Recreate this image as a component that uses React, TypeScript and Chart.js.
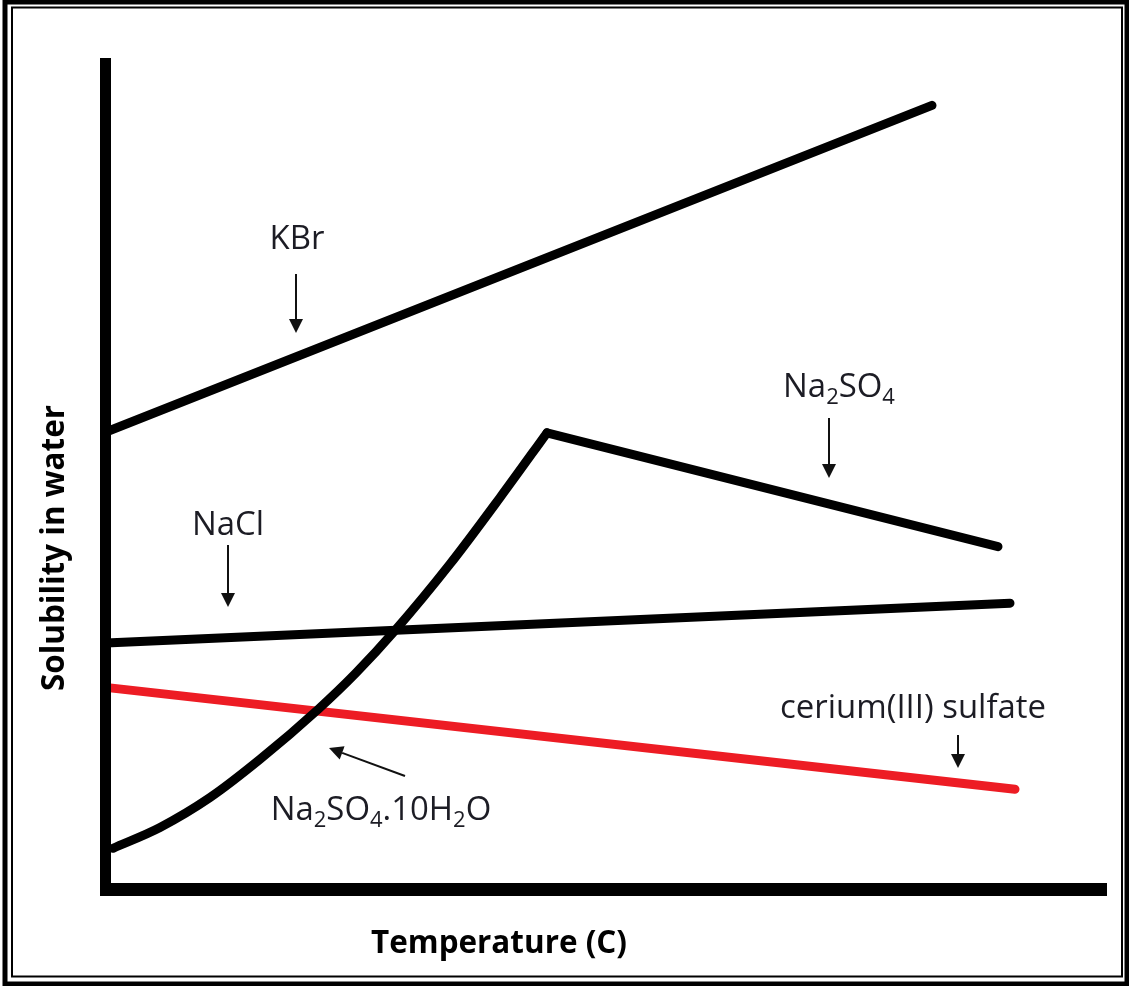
import React, { useEffect, useRef } from "react";
import { Chart, registerables } from "chart.js";

Chart.register(...registerables);

// Schematic data (temperature 0-100, solubility 0-100, arbitrary units)
const kbrTemp = [0, 82.6];
const kbrSol = [55.0, 94.3];

const decahydrateTemp = [0.7, 5.4, 10.4, 15.4, 21.2, 25.0, 28.9, 34.4, 39.4, 44.1];
const decahydrateSol = [4.9, 7.4, 11.0, 15.6, 21.6, 26.0, 31.1, 39.1, 47.1, 54.9];

const na2so4Temp = [44.1, 89.2];
const na2so4Sol = [54.9, 41.2];

const naclTemp = [0, 90.4];
const naclSol = [29.6, 34.4];

const ceriumTemp = [0.4, 90.9];
const ceriumSol = [24.2, 12.0];

const xTitle = "Temperature (C)";
const yTitle = "Solubility in water";

const toPoints = (xs: number[], ys: number[]) => xs.map((x, i) => ({ x, y: ys[i] }));

type Seg = { t: string; sub?: boolean };

const FONT = "'Open Sans', Lato, sans-serif";

function drawRich(ctx: CanvasRenderingContext2D, segs: Seg[], cx: number, baseline: number, size: number) {
  const subSize = Math.round(size * 0.66);
  const widths = segs.map((s) => {
    ctx.font = `${s.sub ? subSize : size}px ${FONT}`;
    return ctx.measureText(s.t).width;
  });
  const total = widths.reduce((a, b) => a + b, 0);
  let x = cx - total / 2;
  ctx.textAlign = "left";
  ctx.textBaseline = "alphabetic";
  segs.forEach((s, i) => {
    ctx.font = `${s.sub ? subSize : size}px ${FONT}`;
    ctx.fillText(s.t, x, baseline + (s.sub ? size * 0.2 : 0));
    x += widths[i];
  });
}

function arrow(ctx: CanvasRenderingContext2D, x1: number, y1: number, x2: number, y2: number) {
  const ang = Math.atan2(y2 - y1, x2 - x1);
  const headLen = 14;
  const headW = 7;
  const bx = x2 - headLen * Math.cos(ang);
  const by = y2 - headLen * Math.sin(ang);
  ctx.beginPath();
  ctx.moveTo(x1, y1);
  ctx.lineTo(bx, by);
  ctx.lineWidth = 2;
  ctx.strokeStyle = "#111";
  ctx.stroke();
  ctx.beginPath();
  ctx.moveTo(x2, y2);
  ctx.lineTo(bx + headW * Math.sin(ang), by - headW * Math.cos(ang));
  ctx.lineTo(bx - headW * Math.sin(ang), by + headW * Math.cos(ang));
  ctx.closePath();
  ctx.fillStyle = "#111";
  ctx.fill();
}

function fitSize(ctx: CanvasRenderingContext2D, text: string, width: number, weight: string) {
  ctx.font = `${weight} 30px ${FONT}`;
  const w = ctx.measureText(text).width;
  return (30 * width) / w;
}

const decorPlugin = {
  id: "decor",
  afterDraw(chart: any) {
    const ctx: CanvasRenderingContext2D = chart.ctx;
    const { left, right, top, bottom } = chart.chartArea;
    ctx.save();
    // frame
    ctx.strokeStyle = "#000";
    ctx.lineWidth = 5;
    ctx.strokeRect(5, 2, 1122, 982);
    ctx.lineWidth = 2;
    ctx.strokeRect(12, 7.5, 1110, 969);
    // axes
    ctx.fillStyle = "#000";
    ctx.fillRect(left - 6, top, 11, bottom - top + 7);
    ctx.fillRect(left - 6, bottom - 6, right - left + 7, 13);

    // labels
    ctx.fillStyle = "#1c1c24";
    const size = fitSize(ctx, "cerium(III) sulfate", 266, "normal");
    drawRich(ctx, [{ t: "KBr" }], 297, 249, size);
    drawRich(ctx, [{ t: "NaCl" }], 228, 535, size);
    drawRich(ctx, [{ t: "Na" }, { t: "2", sub: true }, { t: "SO" }, { t: "4", sub: true }], 839, 397, size);
    drawRich(ctx, [{ t: "cerium(III) sulfate" }], 913, 718, size);
    drawRich(
      ctx,
      [{ t: "Na" }, { t: "2", sub: true }, { t: "SO" }, { t: "4", sub: true }, { t: ".10H" }, { t: "2", sub: true }, { t: "O" }],
      381,
      820,
      size
    );

    // arrows
    arrow(ctx, 296, 274, 296, 333);
    arrow(ctx, 228, 545, 228, 607);
    arrow(ctx, 829, 418, 829, 478);
    arrow(ctx, 958, 735, 958, 768);
    arrow(ctx, 405, 776, 329, 748);

    // axis titles
    ctx.fillStyle = "#000";
    const tSize = fitSize(ctx, xTitle, 256, "bold");
    ctx.font = `bold ${tSize}px ${FONT}`;
    ctx.textAlign = "center";
    ctx.textBaseline = "alphabetic";
    ctx.fillText(xTitle, 499, 953);
    ctx.save();
    ctx.translate(64, 548);
    ctx.rotate(-Math.PI / 2);
    ctx.fillText(yTitle, 0, 0);
    ctx.restore();
    ctx.restore();
  },
};

export default function App() {
  const ref = useRef<HTMLCanvasElement | null>(null);
  useEffect(() => {
    if (!ref.current) return;
    const common = {
      borderWidth: 9,
      pointRadius: 0,
      pointHoverRadius: 0,
      borderCapStyle: "round" as const,
      borderJoinStyle: "round" as const,
      fill: false,
      clip: false as any,
    };
    const chart = new Chart(ref.current, {
      type: "line",
      data: {
        datasets: [
          { ...common, label: "KBr", data: toPoints(kbrTemp, kbrSol), borderColor: "#000" },
          {
            ...common,
            label: "Na2SO4.10H2O",
            data: toPoints(decahydrateTemp, decahydrateSol),
            borderColor: "#000",
            cubicInterpolationMode: "monotone",
          },
          { ...common, label: "Na2SO4", data: toPoints(na2so4Temp, na2so4Sol), borderColor: "#000" },
          { ...common, label: "NaCl", data: toPoints(naclTemp, naclSol), borderColor: "#000" },
          { ...common, label: "cerium(III) sulfate", data: toPoints(ceriumTemp, ceriumSol), borderColor: "#ed1c24" },
        ],
      },
      options: {
        responsive: false,
        animation: false,
        events: [],
        layout: { padding: { left: 106, right: 23, top: 58, bottom: 97 } },
        plugins: { legend: { display: false }, tooltip: { enabled: false }, title: { display: false } },
        scales: {
          x: { type: "linear", min: 0, max: 100, display: false },
          y: { type: "linear", min: 0, max: 100, display: false },
        },
      },
      plugins: [decorPlugin],
    });
    return () => chart.destroy();
  }, []);
  return (
    <div style={{ position: "absolute", left: 0, top: 0, width: 1129, height: 986, background: "#fff" }}>
      <canvas ref={ref} width={1129} height={986} style={{ display: "block" }} />
    </div>
  );
}
